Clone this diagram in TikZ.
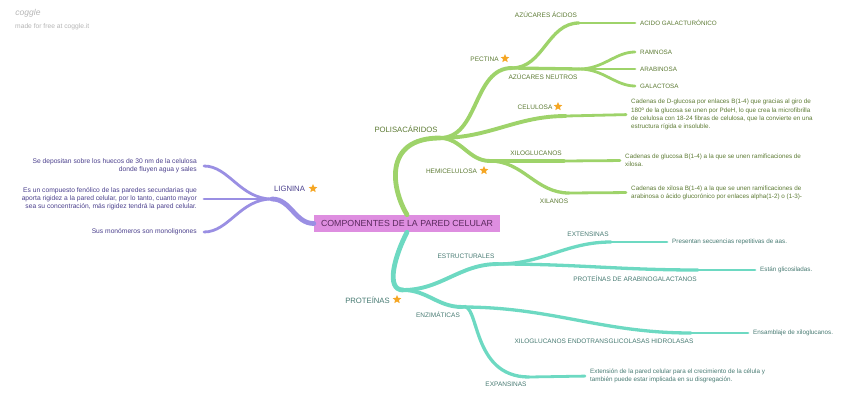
\documentclass[tikz,border=0pt]{standalone}
\usepackage{fontspec}
\setmainfont{Liberation Sans}
\usetikzlibrary{shapes.geometric}
\definecolor{grn}{HTML}{9ED36A}
\definecolor{gtx}{HTML}{5C7A33}
\definecolor{pur}{HTML}{9A8FE3}
\definecolor{ptx}{HTML}{4A3F8C}
\definecolor{tea}{HTML}{6DD9C2}
\definecolor{ttx}{HTML}{477A72}
\definecolor{pnk}{HTML}{DE8EE0}
\definecolor{ctx}{HTML}{5B2A5E}
\definecolor{orn}{HTML}{F5A623}
\definecolor{logo}{HTML}{B5B5B5}

\begin{document}
\begin{tikzpicture}[x=1pt,y=1pt,
  every node/.style={inner sep=0pt},
  big/.style={font=\fontsize{7.7}{9}\selectfont},
  lbl/.style={font=\fontsize{6.5}{8}\selectfont},
  txt/.style={font=\fontsize{6.3}{8.2}\selectfont,align=left,anchor=west},
  ltxt/.style={font=\fontsize{6.7}{8.2}\selectfont,align=right,anchor=east,text=ptx},
  starmk/.style={star,star points=5,star point ratio=2.2,fill=orn,minimum size=9pt},
  w1/.style={line width=4.8pt,line cap=round},
  w2/.style={line width=3.9pt,line cap=round},
  w3/.style={line width=3.3pt,line cap=round},
  w4/.style={line width=2.8pt,line cap=round,shorten >=5pt}]
  \useasboundingbox (0,0) rectangle (848,-402);

  \node[text=logo,font=\fontsize{8.5}{8}\selectfont\itshape] (cg) at (28,-13) {coggle};
  \node[text=logo,font=\fontsize{6.7}{8}\selectfont,anchor=west] (cgit) at (15,-27) {made for free at coggle.it};

  \node[fill=pnk,text=ctx,font=\fontsize{8.8}{10}\selectfont,inner xsep=7pt,inner ysep=5.5pt] (cen) at (407,-223.5) {COMPONENTES DE LA PARED CELULAR};

  \coordinate (lig) at (272,-199);
  \node[big,text=ptx] (ligl) at (289.5,-189) {LIGNINA};
  \node[starmk] (ligs) at (313,-188.5) {};
  \node[ltxt] (lig1) at (197,-166) {Se depositan sobre los huecos de 30 nm de la celulosa\\donde fluyen agua y sales};
  \node[ltxt] (lig2) at (197,-199) {Es un compuesto fenólico de las paredes secundarias que\\aporta rigidez a la pared celular, por lo tanto, cuanto mayor\\sea su concentración, más rigidez tendrá la pared celular.};
  \node[ltxt] (lig3) at (197,-232) {Sus monómeros son monolignones};

  \coordinate (pol) at (440,-138);
  \node[big,text=gtx] (poll) at (406,-129) {POLISACÁRIDOS};
  \coordinate (pec) at (512,-68);
  \node[lbl,text=gtx] (pecl) at (484.5,-59) {PECTINA};
  \node[starmk] (pecs) at (505,-58.5) {};
  \coordinate (aca) at (579,-23);
  \node[lbl,text=gtx] (acal) at (546,-15) {AZÚCARES ÁCIDOS};
  \node[txt,text=gtx] (aca1) at (640,-23) {ACIDO GALACTURÓNICO};
  \coordinate (azn) at (579,-69);
  \node[lbl,text=gtx] (aznl) at (543,-77) {AZÚCARES NEUTROS};
  \node[txt,text=gtx] (azn1) at (640,-52) {RAMNOSA};
  \node[txt,text=gtx] (azn2) at (640,-69) {ARABINOSA};
  \node[txt,text=gtx] (azn3) at (640,-86) {GALACTOSA};
  \coordinate (cel) at (566,-116);
  \node[lbl,text=gtx] (cell) at (535,-107) {CELULOSA};
  \node[starmk] (cels) at (558,-106.5) {};
  \node[txt,text=gtx] (cel1) at (631,-114.5) {Cadenas de D-glucosa por enlaces B(1-4) que gracias al giro de\\180º de la glucosa se unen por PdeH, lo que crea la microfibrilla\\de celulosa con 18-24 fibras de celulosa, que la convierte en una\\estructura rígida e insoluble.};
  \coordinate (hem) at (490,-161);
  \node[lbl,text=gtx] (heml) at (451.5,-171) {HEMICELULOSA};
  \node[starmk] (hems) at (484,-170.5) {};
  \coordinate (xig) at (564,-161);
  \node[lbl,text=gtx] (xigl) at (536,-153) {XILOGLUCANOS};
  \node[txt,text=gtx] (xig1) at (625,-160.5) {Cadenas de glucosa B(1-4) a la que se unen ramificaciones de\\xilosa.};
  \coordinate (xil) at (569,-193);
  \node[lbl,text=gtx] (xill) at (554,-201) {XILANOS};
  \node[txt,text=gtx] (xil1) at (631,-192.5) {Cadenas de xilosa B(1-4) a la que se unen ramificaciones de\\arabinosa o ácido glucorónico por enlaces alpha(1-2) o (1-3)-};

  \coordinate (pro) at (403,-290);
  \node[big,text=ttx] (prol) at (367.5,-300) {PROTEÍNAS};
  \node[starmk] (pros) at (397,-299.5) {};
  \coordinate (est) at (498,-264);
  \node[lbl,text=ttx] (estl) at (466,-256) {ESTRUCTURALES};
  \coordinate (ext) at (611,-242);
  \node[lbl,text=ttx] (extl) at (588,-234) {EXTENSINAS};
  \node[txt,text=ttx] (ext1) at (672,-242) {Presentan secuencias repetitivas de aas.};
  \coordinate (pag) at (698,-270);
  \node[lbl,text=ttx] (pagl) at (635,-279) {PROTEÍNAS DE ARABINOGALACTANOS};
  \node[txt,text=ttx] (pag1) at (760,-270) {Están glicosiladas.};
  \coordinate (enz) at (462,-307);
  \node[lbl,text=ttx] (enzl) at (438,-315) {ENZIMÁTICAS};
  \coordinate (xet) at (691,-333);
  \node[lbl,text=ttx] (xetl) at (604,-341) {XILOGLUCANOS ENDOTRANSGLICOLASAS HIDROLASAS};
  \node[txt,text=ttx] (xet1) at (753,-333) {Ensamblaje de xiloglucanos.};
  \coordinate (exp) at (529,-377);
  \node[lbl,text=ttx] (expl) at (506,-384) {EXPANSINAS};
  \node[txt,text=ttx] (exp1) at (590,-376) {Extensión de la pared celular para el crecimiento de la célula y\\también puede estar implicada en su disgregación.};

  \draw[pur,w1] (cen.west) to[out=180,in=0] (lig);
  \draw[pur,w4,shorten >=7pt] (lig) to[out=180,in=0] (lig1.east);
  \draw[pur,w4,shorten >=7pt] (lig) to[out=180,in=0] (lig2.east);
  \draw[pur,w4,shorten >=7pt] (lig) to[out=180,in=0] (lig3.east);

  \draw[grn,w1] (cen.north) .. controls (392,-190) and (382,-138) .. (pol);
  \draw[grn,w2] (pol) to[out=0,in=180] (pec);
  \draw[grn,w2] (pol) to[out=0,in=180] (cel);
  \draw[grn,w2] (pol) to[out=0,in=180] (hem);
  \draw[grn,w3] (pec) to[out=0,in=180] (aca);
  \draw[grn,w3] (pec) -- (azn);
  \draw[grn,w4] (aca) -- (aca1.west);
  \draw[grn,w4] (azn) to[out=0,in=180] (azn1.west);
  \draw[grn,w4] (azn) -- (azn2.west);
  \draw[grn,w4] (azn) to[out=0,in=180] (azn3.west);
  \draw[grn,w4] (cel) -- (cel1.west);
  \draw[grn,w3] (hem) -- (xig);
  \draw[grn,w3] (hem) to[out=0,in=180] (xil);
  \draw[grn,w4] (xig) -- (xig1.west);
  \draw[grn,w4] (xil) -- (xil1.west);

  \draw[tea,w1] (cen.south) .. controls (395,-255) and (385,-290) .. (pro);
  \draw[tea,w2] (pro) to[out=0,in=180] (est);
  \draw[tea,w2] (pro) to[out=0,in=180] (enz);
  \draw[tea,w3] (est) to[out=0,in=180] (ext);
  \draw[tea,w3] (est) to[out=0,in=180] (pag);
  \draw[tea,w3] (enz) to[out=0,in=180] (xet);
  \draw[tea,w3] (enz) .. controls (480,-300) and (470,-377) .. (exp);
  \draw[tea,w4] (ext) -- (ext1.west);
  \draw[tea,w4] (pag) -- (pag1.west);
  \draw[tea,w4] (xet) -- (xet1.west);
  \draw[tea,w4] (exp) -- (exp1.west);
\end{tikzpicture}
\end{document}
